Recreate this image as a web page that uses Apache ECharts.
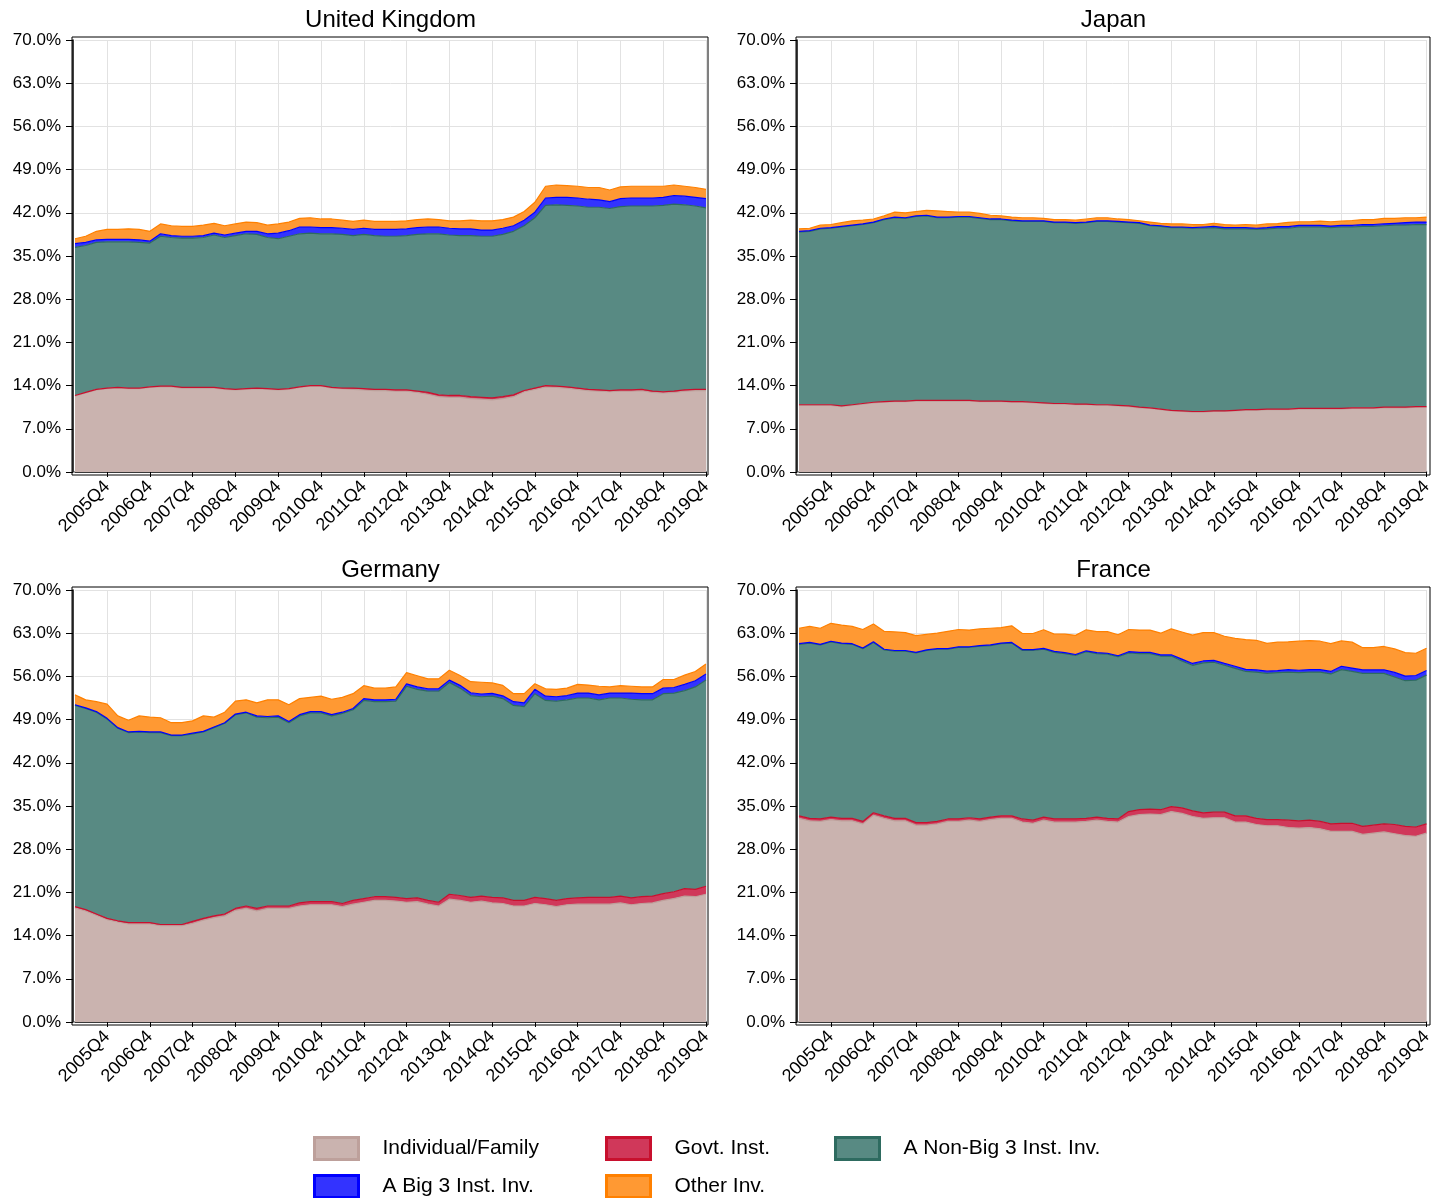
<!DOCTYPE html>
<html>
<head>
<meta charset="utf-8">
<title>Ownership shares</title>
<script src="https://cdn.jsdelivr.net/npm/echarts@6/dist/echarts.min.js"></script>
<style>
  html, body { margin: 0; padding: 0; background: #fff; }
  #main { width: 1435px; height: 1198px; }
</style>
</head>
<body>
<div id="main"></div>
<script>
// quarters on the x axis
var quarters = [
  '2005Q1','2005Q2','2005Q3','2005Q4','2006Q1','2006Q2','2006Q3','2006Q4','2007Q1','2007Q2',
  '2007Q3','2007Q4','2008Q1','2008Q2','2008Q3','2008Q4','2009Q1','2009Q2','2009Q3','2009Q4',
  '2010Q1','2010Q2','2010Q3','2010Q4','2011Q1','2011Q2','2011Q3','2011Q4','2012Q1','2012Q2',
  '2012Q3','2012Q4','2013Q1','2013Q2','2013Q3','2013Q4','2014Q1','2014Q2','2014Q3','2014Q4',
  '2015Q1','2015Q2','2015Q3','2015Q4','2016Q1','2016Q2','2016Q3','2016Q4','2017Q1','2017Q2',
  '2017Q3','2017Q4','2018Q1','2018Q2','2018Q3','2018Q4','2019Q1','2019Q2','2019Q3','2019Q4'
];
var yTicks = [0, 7, 14, 21, 28, 35, 42, 49, 56, 63, 70];

var countries = ['United Kingdom', 'Japan', 'Germany', 'France'];
var layerNames = ['Individual/Family', 'Govt. Inst.', 'A Non-Big 3 Inst. Inv.', 'A Big 3 Inst. Inv.', 'Other Inv.'];

// United Kingdom (share, %)
var ukInd = [12.3,12.8,13.3,13.5,13.6,13.5,13.5,13.7,13.8,13.8, 13.6,13.6,13.6,13.6,13.4,13.3,13.4,13.5,13.4,13.3,
  13.4,13.7,13.9,13.9,13.6,13.5,13.4,13.3,13.2,13.2, 13.1,13.1,12.9,12.6,12.2,12.1,12.1,11.9,11.8,11.7,
  11.9,12.2,13.0,13.4,13.8,13.7,13.6,13.4,13.2,13.1, 13.0,13.1,13.1,13.2,12.9,12.8,12.9,13.1,13.2,13.2];
var ukGov = [0.1,0.1,0.1,0.1,0.1,0.1,0.1,0.1,0.1,0.1, 0.1,0.1,0.1,0.1,0.1,0.1,0.1,0.1,0.1,0.1,
  0.1,0.1,0.1,0.1,0.1,0.1,0.2,0.2,0.2,0.2, 0.2,0.2,0.2,0.3,0.3,0.3,0.3,0.3,0.3,0.3,
  0.3,0.3,0.2,0.2,0.2,0.2,0.2,0.2,0.2,0.2, 0.2,0.2,0.2,0.2,0.2,0.2,0.2,0.2,0.2,0.2];
var ukNon = [24.0,23.8,23.8,23.7,23.6,23.7,23.6,23.3,24.3,24.1, 24.2,24.2,24.3,24.7,24.5,24.9,25.1,24.9,24.5,24.4,
  24.7,24.8,24.7,24.6,24.9,24.9,24.7,25.0,24.9,24.8, 24.9,25.0,25.4,25.7,26.1,26.0,25.9,26.1,26.1,26.2,
  26.3,26.5,26.7,27.6,29.2,29.4,29.4,29.5,29.5,29.6, 29.5,29.7,29.8,29.7,30.0,30.2,30.3,30.0,29.7,29.4];
var ukBig3 = [0.6,0.5,0.4,0.4,0.4,0.4,0.4,0.3,0.4,0.3, 0.3,0.3,0.3,0.3,0.4,0.4,0.4,0.5,0.6,0.9,
  0.9,1.1,1.0,1.0,1.0,1.0,1.0,1.0,1.0,1.1, 1.1,1.1,1.1,1.1,1.1,1.1,1.1,1.1,1.0,1.0,
  1.0,0.9,0.9,0.9,1.2,1.2,1.3,1.3,1.3,1.2, 1.1,1.3,1.3,1.3,1.3,1.3,1.4,1.4,1.4,1.5];
var ukOther = [0.8,1.0,1.4,1.6,1.6,1.7,1.7,1.6,1.6,1.6, 1.6,1.6,1.7,1.6,1.5,1.5,1.5,1.4,1.4,1.5,
  1.4,1.4,1.5,1.4,1.4,1.3,1.3,1.3,1.3,1.3, 1.3,1.3,1.3,1.3,1.2,1.2,1.3,1.4,1.5,1.5,
  1.4,1.4,1.4,1.6,1.9,2.0,1.9,1.9,1.9,2.0, 1.9,1.9,1.9,1.9,1.9,1.8,1.7,1.6,1.6,1.5];

// Japan
var jpInd = [10.8,10.8,10.8,10.8,10.6,10.8,11.0,11.2,11.3,11.4, 11.4,11.5,11.5,11.5,11.5,11.5,11.5,11.4,11.4,11.4,
  11.3,11.3,11.2,11.1,11.0,11.0,10.9,10.9,10.8,10.8, 10.7,10.6,10.4,10.3,10.1,9.9,9.8,9.7,9.7,9.8,
  9.8,9.9,10.0,10.0,10.1,10.1,10.1,10.2,10.2,10.2, 10.2,10.2,10.3,10.3,10.3,10.4,10.4,10.4,10.5,10.5];
var jpGov = [0.1,0.1,0.1,0.1,0.1,0.1,0.1,0.1,0.1,0.1, 0.1,0.1,0.1,0.1,0.1,0.1,0.1,0.1,0.1,0.1,
  0.1,0.1,0.1,0.1,0.1,0.1,0.1,0.1,0.1,0.1, 0.1,0.1,0.1,0.1,0.1,0.1,0.1,0.1,0.1,0.1,
  0.1,0.1,0.1,0.1,0.1,0.1,0.1,0.1,0.1,0.1, 0.1,0.1,0.1,0.1,0.1,0.1,0.1,0.1,0.1,0.1];
var jpNon = [28.0,28.1,28.5,28.6,29.0,29.0,29.0,29.1,29.5,29.7, 29.6,29.8,29.9,29.6,29.6,29.7,29.7,29.6,29.4,29.4,
  29.3,29.2,29.3,29.4,29.3,29.3,29.3,29.4,29.7,29.7, 29.7,29.7,29.8,29.5,29.6,29.6,29.7,29.7,29.7,29.7,
  29.5,29.4,29.3,29.2,29.2,29.3,29.3,29.4,29.4,29.4, 29.3,29.4,29.3,29.4,29.4,29.4,29.5,29.5,29.5,29.5];
var jpBig3 = [0.1,0.1,0.1,0.1,0.1,0.1,0.1,0.1,0.1,0.1, 0.1,0.1,0.1,0.1,0.1,0.1,0.1,0.1,0.1,0.1,
  0.1,0.1,0.1,0.1,0.1,0.1,0.1,0.1,0.1,0.1, 0.1,0.1,0.1,0.1,0.1,0.1,0.1,0.1,0.2,0.2,
  0.2,0.2,0.2,0.2,0.2,0.25,0.25,0.25,0.25,0.25, 0.25,0.25,0.25,0.3,0.3,0.3,0.3,0.4,0.4,0.4];
var jpOther = [0.4,0.4,0.5,0.5,0.6,0.7,0.6,0.5,0.5,0.8, 0.8,0.7,0.8,1.0,0.9,0.7,0.7,0.7,0.6,0.5,
  0.5,0.5,0.5,0.4,0.4,0.4,0.4,0.5,0.5,0.5, 0.4,0.4,0.3,0.5,0.4,0.5,0.5,0.5,0.4,0.5,
  0.5,0.4,0.5,0.5,0.6,0.5,0.7,0.6,0.6,0.7, 0.7,0.7,0.8,0.8,0.8,0.9,0.8,0.8,0.7,0.8];

// Germany
var deInd = [18.5,18.0,17.3,16.6,16.2,15.9,15.9,15.9,15.6,15.6, 15.6,16.0,16.5,16.9,17.2,18.1,18.4,18.0,18.4,18.4,
  18.4,18.8,19.0,19.0,19.0,18.7,19.1,19.4,19.7,19.7, 19.6,19.4,19.5,19.1,18.8,19.9,19.7,19.4,19.6,19.3,
  19.2,18.8,18.8,19.2,19.0,18.7,19.0,19.1,19.1,19.1, 19.1,19.3,19.0,19.2,19.3,19.7,20.0,20.4,20.3,20.7];
var deGov = [0.2,0.2,0.2,0.2,0.2,0.2,0.2,0.2,0.2,0.2, 0.2,0.3,0.3,0.3,0.3,0.3,0.4,0.4,0.4,0.4,
  0.4,0.5,0.5,0.5,0.5,0.5,0.6,0.6,0.6,0.6, 0.6,0.6,0.6,0.6,0.6,0.8,0.8,0.8,0.8,0.9,
  0.9,0.9,0.9,1.0,1.0,1.0,1.0,1.0,1.1,1.1, 1.1,1.1,1.1,1.1,1.1,1.1,1.1,1.2,1.2,1.3];
var deNon = [32.6,32.6,32.7,32.3,31.2,30.8,30.9,30.8,31.1,30.6, 30.6,30.4,30.2,30.5,30.9,31.4,31.3,31.0,30.5,30.6,
  29.7,30.3,30.6,30.6,30.1,30.8,30.9,32.1,31.6,31.6, 31.8,34.4,33.8,33.9,34.2,34.3,33.6,32.7,32.3,32.6,
  32.3,31.6,31.4,33.0,32.1,32.3,32.2,32.4,32.3,32.0, 32.3,32.1,32.2,31.9,31.8,32.4,32.2,32.1,32.8,33.4];
var deBig3 = [0.1,0.1,0.1,0.1,0.1,0.1,0.1,0.1,0.1,0.1, 0.1,0.1,0.1,0.1,0.1,0.1,0.1,0.2,0.2,0.2,
  0.2,0.2,0.2,0.2,0.2,0.2,0.2,0.3,0.3,0.3, 0.3,0.4,0.4,0.4,0.4,0.4,0.45,0.45,0.45,0.45,
  0.45,0.6,0.6,0.7,0.7,0.7,0.7,0.8,0.8,0.8, 0.8,0.8,1.0,1.0,1.0,0.9,0.9,1.0,1.0,1.0];
var deOther = [1.6,1.3,1.6,2.3,1.9,1.9,2.5,2.4,2.3,2.0, 2.0,2.0,2.5,1.6,1.7,2.1,2.0,2.1,2.7,2.6,
  2.7,2.6,2.3,2.5,2.5,2.4,2.4,2.1,1.9,1.9, 2.0,1.8,1.8,1.6,1.6,1.6,1.6,1.8,1.9,1.7,
  1.7,1.3,1.5,0.9,1.2,1.2,1.2,1.4,1.3,1.4, 1.0,1.2,1.1,1.1,1.1,1.4,1.3,1.5,1.5,1.6];

// France
var frInd = [33.0,32.6,32.5,32.8,32.6,32.6,32.1,33.5,33.0,32.6, 32.6,31.9,31.9,32.1,32.5,32.5,32.7,32.5,32.8,33.0,
  33.0,32.4,32.2,32.7,32.4,32.4,32.4,32.5,32.7,32.5, 32.4,33.3,33.6,33.7,33.6,34.1,33.8,33.3,33.0,33.1,
  33.1,32.4,32.4,32.0,31.8,31.8,31.5,31.4,31.5,31.3, 30.9,30.9,30.9,30.4,30.6,30.8,30.5,30.2,30.1,30.6];
var frGov = [0.4,0.4,0.4,0.4,0.4,0.4,0.4,0.4,0.4,0.4, 0.4,0.4,0.4,0.4,0.4,0.4,0.4,0.4,0.4,0.4,
  0.4,0.5,0.5,0.5,0.5,0.5,0.5,0.5,0.5,0.5, 0.5,0.8,0.8,0.8,0.8,0.8,0.9,0.9,0.9,0.9,
  0.9,1.0,1.0,1.0,1.0,1.0,1.2,1.2,1.2,1.2, 1.2,1.3,1.3,1.3,1.3,1.3,1.5,1.5,1.5,1.5];
var frNon = [27.8,28.4,28.2,28.4,28.3,28.2,28.0,27.6,26.9,27.1, 27.1,27.5,27.9,27.9,27.5,27.8,27.6,28.0,27.8,27.9,
  28.0,27.3,27.5,27.2,27.0,26.8,26.5,27.0,26.5,26.6, 26.3,25.7,25.3,25.2,24.9,24.4,23.8,23.6,24.3,24.3,
  23.8,23.9,23.4,23.7,23.7,23.8,24.0,24.0,24.0,24.2, 24.3,24.9,24.6,24.8,24.6,24.4,23.9,23.6,23.8,24.1];
var frBig3 = [0.1,0.1,0.1,0.1,0.1,0.1,0.1,0.1,0.1,0.1, 0.1,0.1,0.1,0.1,0.1,0.1,0.1,0.1,0.1,0.1,
  0.1,0.15,0.15,0.15,0.15,0.15,0.15,0.15,0.15,0.15, 0.15,0.2,0.2,0.2,0.2,0.2,0.3,0.3,0.3,0.3,
  0.3,0.35,0.35,0.35,0.35,0.35,0.4,0.4,0.4,0.4, 0.4,0.55,0.55,0.55,0.55,0.55,0.75,0.75,0.75,0.75];
var frOther = [2.5,2.6,2.6,2.9,2.9,2.8,3.0,2.9,2.9,3.0, 2.9,2.7,2.5,2.5,2.8,2.8,2.7,2.7,2.7,2.5,
  2.7,2.6,2.6,3.0,2.8,3.0,3.1,3.4,3.4,3.5, 3.4,3.6,3.6,3.6,3.5,4.2,4.4,4.6,4.6,4.5,
  4.4,4.5,4.8,4.8,4.5,4.6,4.5,4.7,4.7,4.6, 4.5,4.1,4.2,3.6,3.6,3.8,3.8,3.8,3.6,3.6];

var panelData = [
  [ukInd, ukGov, ukNon, ukBig3, ukOther],
  [jpInd, jpGov, jpNon, jpBig3, jpOther],
  [deInd, deGov, deNon, deBig3, deOther],
  [frInd, frGov, frNon, frBig3, frOther]
];

var lineColors = ['#BDA09B', '#C8102E', '#2E6B60', '#0000FF', '#FF8000'];
var fillColors = ['#CAB3AF', '#D0385A', '#588A83', '#3333FF', '#FF9933'];
var font = '"Liberation Sans", Arial, Helvetica, sans-serif';

var grids = [
  {left: 75,  top: 40,  width: 631, height: 432},
  {left: 799, top: 40,  width: 629, height: 432},
  {left: 75,  top: 590, width: 631, height: 432},
  {left: 799, top: 590, width: 629, height: 432}
];

// legend slots: [layer index, left, top]
var legendSlots = [[0, 313, 1136], [1, 605, 1136], [2, 834, 1136], [3, 313, 1174], [4, 605, 1174]];

function everyYear(idx) {
  return idx % 4 === 3;
}

$init();

function $init() {
  var myChart = echarts.init(document.getElementById('main'));
  var option = {
    animation: false,
    backgroundColor: '#fff',
    title: [],
    grid: [],
    xAxis: [],
    yAxis: [],
    series: [],
    graphic: [],
    legend: []
  };

  for (var s = 0; s < legendSlots.length; s++) {
    option.legend.push(legendItem(legendSlots[s][0], legendSlots[s][1], legendSlots[s][2]));
  }

  for (var i = 0; i < grids.length; i++) {
    var g = grids[i];
    option.grid.push({left: g.left, top: g.top, width: g.width, height: g.height, containLabel: false});

    // box around each panel
    option.graphic.push({
      type: 'rect', z: 100, silent: true,
      shape: {x: g.left - 3, y: g.top - 3, width: g.width + 5, height: g.height + 6},
      style: {fill: 'none', stroke: '#000', lineWidth: 1}
    });

    option.title.push({
      text: countries[i],
      left: g.left + g.width / 2 - 5,
      top: g.top - 37,
      textAlign: 'center',
      textStyle: {fontSize: 24, fontWeight: 'normal', color: '#000', fontFamily: font}
    });

    option.xAxis.push({
      type: 'category',
      gridIndex: i,
      data: quarters,
      boundaryGap: false,
      offset: 3,
      axisLine: {lineStyle: {color: '#000', width: 1.5}},
      axisTick: {interval: everyYear, length: 5, lineStyle: {color: '#000'}},
      axisLabel: {interval: everyYear, rotate: 45, fontSize: 18, color: '#000', margin: 9, fontFamily: font},
      splitLine: {show: true, interval: everyYear, lineStyle: {color: '#e2e2e2', width: 1}}
    });

    option.yAxis.push({
      type: 'value',
      gridIndex: i,
      min: yTicks[0],
      max: yTicks[yTicks.length - 1],
      interval: yTicks[1] - yTicks[0],
      offset: 2,
      axisLine: {show: true, lineStyle: {color: '#000', width: 1.5}},
      axisTick: {show: true, length: 7, lineStyle: {color: '#000'}},
      axisLabel: {
        fontSize: 17, color: '#000', margin: 12, fontFamily: font,
        formatter: function (v) { return v.toFixed(1) + '%'; }
      },
      splitLine: {show: true, lineStyle: {color: '#e2e2e2', width: 1}}
    });

    for (var k = 0; k < layerNames.length; k++) {
      option.series.push({
        name: layerNames[k],
        type: 'line',
        xAxisIndex: i,
        yAxisIndex: i,
        stack: 'panel' + i,
        data: panelData[i][k],
        symbol: 'none',
        showSymbol: false,
        silent: true,
        lineStyle: {color: lineColors[k], width: 1.2},
        itemStyle: {color: fillColors[k]},
        areaStyle: {color: fillColors[k], opacity: 1},
        emphasis: {disabled: true}
      });
    }
  }

  myChart.setOption(option);
}

function legendItem(k, left, top) {
  return {
    left: left,
    top: top,
    orient: 'horizontal',
    itemWidth: 44,
    itemHeight: 22,
    selectedMode: false,
    padding: 0,
    data: [{
      name: layerNames[k],
      icon: 'rect',
      itemStyle: {color: fillColors[k], borderColor: lineColors[k], borderWidth: 3}
    }],
    textStyle: {fontSize: 21, color: '#000', fontFamily: font, padding: [0, 0, 0, 19]}
  };
}
</script>
</body>
</html>
